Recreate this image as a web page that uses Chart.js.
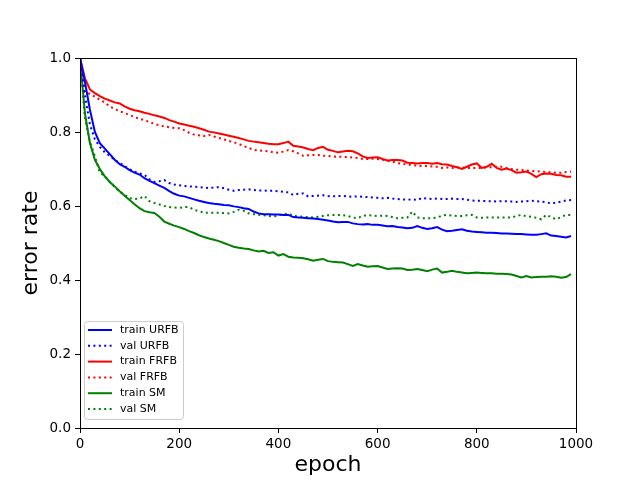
<!DOCTYPE html>
<html>
<head>
<meta charset="utf-8">
<script src="https://cdn.jsdelivr.net/npm/chart.js@4/dist/chart.umd.min.js"></script>
<style>
  body { margin: 0; background: #fff; }
  #wrap { width: 640px; height: 480px; }
</style>
</head>
<body>
<div id="wrap"><canvas id="chart" width="640" height="480"></canvas></div>
<script>
// epochs (x values), one sample every 10 epochs
const epochs = [0, 10, 20, 30, 40, 50, 60, 70, 80, 90,
  100, 110, 120, 130, 140, 150, 160, 170, 180, 190,
  200, 210, 220, 230, 240, 250, 260, 270, 280, 290,
  300, 310, 320, 330, 340, 350, 360, 370, 380, 390,
  400, 410, 420, 430, 440, 450, 460, 470, 480, 490,
  500, 510, 520, 530, 540, 550, 560, 570, 580, 590,
  600, 610, 620, 630, 640, 650, 660, 670, 680, 690,
  700, 710, 720, 730, 740, 750, 760, 770, 780, 790,
  800, 810, 820, 830, 840, 850, 860, 870, 880, 890,
  900, 910, 920, 930, 940, 950, 960, 970, 980, 990];

const trainURFB = [1.0, 0.935, 0.86, 0.80, 0.77, 0.755, 0.74, 0.725, 0.713, 0.706,
  0.697, 0.69, 0.685, 0.675, 0.668, 0.662, 0.655, 0.649, 0.64, 0.633,
  0.628, 0.626, 0.622, 0.618, 0.614, 0.611, 0.608, 0.606, 0.605, 0.603,
  0.602, 0.599, 0.597, 0.594, 0.592, 0.585, 0.58, 0.578, 0.578, 0.577,
  0.577, 0.576, 0.576, 0.570, 0.569, 0.568, 0.567, 0.566, 0.565, 0.563,
  0.561, 0.558, 0.556, 0.557, 0.557, 0.553, 0.551, 0.550, 0.551, 0.549,
  0.549, 0.547, 0.545, 0.546, 0.543, 0.542, 0.540, 0.541, 0.546, 0.541,
  0.538, 0.540, 0.543, 0.536, 0.532, 0.533, 0.535, 0.537, 0.533, 0.531,
  0.530, 0.529, 0.528, 0.528, 0.527, 0.526, 0.526, 0.525, 0.524, 0.524,
  0.523, 0.522, 0.522, 0.524, 0.526, 0.520, 0.519, 0.517, 0.515, 0.519];

const valURFB = [1.0, 0.90, 0.82, 0.78, 0.76, 0.745, 0.735, 0.725, 0.716, 0.708,
  0.699, 0.693, 0.688, 0.684, 0.672, 0.665, 0.667, 0.670, 0.662, 0.658,
  0.656, 0.654, 0.653, 0.652, 0.651, 0.650, 0.648, 0.650, 0.651, 0.648,
  0.644, 0.641, 0.643, 0.644, 0.645, 0.643, 0.642, 0.642, 0.641, 0.641,
  0.640, 0.638, 0.637, 0.630, 0.633, 0.634, 0.626, 0.627, 0.628, 0.629,
  0.627, 0.626, 0.627, 0.627, 0.626, 0.625, 0.626, 0.625, 0.624, 0.623,
  0.622, 0.621, 0.622, 0.620, 0.619, 0.618, 0.617, 0.618, 0.616, 0.622,
  0.620, 0.619, 0.620, 0.619, 0.619, 0.620, 0.619, 0.619, 0.617, 0.615,
  0.614, 0.614, 0.613, 0.613, 0.612, 0.613, 0.613, 0.612, 0.611, 0.612,
  0.613, 0.614, 0.613, 0.612, 0.610, 0.607, 0.609, 0.612, 0.615, 0.616];

const trainFRFB = [1.0, 0.945, 0.915, 0.905, 0.897, 0.89, 0.885, 0.88, 0.877, 0.869,
  0.863, 0.859, 0.856, 0.852, 0.849, 0.845, 0.842, 0.838, 0.832, 0.828,
  0.823, 0.82, 0.817, 0.814, 0.81, 0.806, 0.801, 0.799, 0.796, 0.793,
  0.79, 0.787, 0.784, 0.78, 0.776, 0.774, 0.772, 0.77, 0.768, 0.767,
  0.767, 0.77, 0.774, 0.763, 0.761, 0.758, 0.754, 0.751, 0.757, 0.76,
  0.752, 0.749, 0.745, 0.747, 0.749, 0.748, 0.742, 0.734, 0.73, 0.731,
  0.732, 0.727, 0.723, 0.724, 0.724, 0.723, 0.717, 0.716, 0.715, 0.716,
  0.716, 0.714, 0.716, 0.713, 0.712, 0.708, 0.705, 0.70, 0.706, 0.712,
  0.715, 0.703, 0.706, 0.714, 0.703, 0.698, 0.701, 0.697, 0.69, 0.691,
  0.693, 0.687, 0.678, 0.686, 0.688, 0.687, 0.684, 0.683, 0.679, 0.679];

const valFRFB = [1.0, 0.908, 0.903, 0.895, 0.887, 0.88, 0.869, 0.862, 0.856, 0.851,
  0.846, 0.84, 0.836, 0.832, 0.827, 0.822, 0.818, 0.815, 0.813, 0.811,
  0.81, 0.805, 0.798, 0.793, 0.791, 0.789, 0.792, 0.788, 0.784, 0.78,
  0.776, 0.772, 0.768, 0.762, 0.757, 0.752, 0.75, 0.749, 0.748, 0.745,
  0.744, 0.747, 0.751, 0.748, 0.742, 0.736, 0.737, 0.738, 0.738, 0.736,
  0.735, 0.734, 0.733, 0.733, 0.732, 0.731, 0.73, 0.727, 0.727, 0.728,
  0.727, 0.725, 0.722, 0.72, 0.716, 0.714, 0.712, 0.711, 0.709, 0.708,
  0.708, 0.707, 0.706, 0.703, 0.704, 0.703, 0.704, 0.704, 0.703, 0.703,
  0.703, 0.703, 0.704, 0.705, 0.706, 0.706, 0.703, 0.70, 0.698, 0.697,
  0.696, 0.695, 0.694, 0.693, 0.692, 0.691, 0.69, 0.69, 0.692, 0.693];

const trainSM = [1.0, 0.85, 0.77, 0.725, 0.70, 0.68, 0.665, 0.653, 0.64, 0.628,
  0.616, 0.605, 0.594, 0.586, 0.583, 0.581, 0.571, 0.558, 0.552, 0.547,
  0.543, 0.538, 0.532, 0.527, 0.521, 0.516, 0.512, 0.509, 0.505, 0.50,
  0.495, 0.49, 0.487, 0.485, 0.484, 0.48, 0.477, 0.479, 0.473, 0.475,
  0.466, 0.47, 0.463, 0.461, 0.46, 0.459, 0.456, 0.452, 0.455, 0.457,
  0.451, 0.449, 0.448, 0.447, 0.443, 0.438, 0.443, 0.439, 0.436, 0.437,
  0.438, 0.434, 0.43, 0.431, 0.432, 0.431, 0.427, 0.428, 0.43, 0.427,
  0.424, 0.428, 0.431, 0.42, 0.422, 0.425, 0.422, 0.42, 0.418, 0.419,
  0.42, 0.419, 0.418, 0.418, 0.417, 0.417, 0.416, 0.415, 0.411, 0.407,
  0.411, 0.407, 0.408, 0.409, 0.409, 0.41, 0.409, 0.406, 0.408, 0.416];

const valSM = [1.0, 0.838, 0.773, 0.735, 0.69, 0.68, 0.665, 0.651, 0.639, 0.63,
  0.621, 0.619, 0.62, 0.627, 0.613, 0.608, 0.604, 0.60, 0.597, 0.596,
  0.595, 0.597, 0.597, 0.59, 0.586, 0.582, 0.582, 0.582, 0.582, 0.581,
  0.58, 0.584, 0.59, 0.587, 0.58, 0.578, 0.576, 0.575, 0.573, 0.571,
  0.575, 0.578, 0.58, 0.573, 0.572, 0.571, 0.57, 0.569, 0.571, 0.573,
  0.575, 0.576, 0.576, 0.575, 0.573, 0.569, 0.567, 0.574, 0.575, 0.574,
  0.573, 0.574, 0.573, 0.57, 0.567, 0.568, 0.569, 0.585, 0.569, 0.567,
  0.567, 0.567, 0.569, 0.574, 0.576, 0.574, 0.573, 0.573, 0.575, 0.576,
  0.569, 0.568, 0.569, 0.569, 0.569, 0.569, 0.569, 0.569, 0.573, 0.576,
  0.572, 0.571, 0.568, 0.564, 0.576, 0.57, 0.564, 0.57, 0.576, 0.576];

const xTicks = [0, 200, 400, 600, 800, 1000];
const yTicks = [0.0, 0.2, 0.4, 0.6, 0.8, 1.0];

const FONT = "'DejaVu Sans', sans-serif";
const dotted = [2, 3.4];

function series(label, values, color, dash) {
  return {
    label: label,
    data: values.map((v, i) => ({ x: epochs[i], y: v })),
    borderColor: color,
    backgroundColor: color,
    borderWidth: 2,
    borderDash: dash,
    borderCapStyle: 'butt',
    pointRadius: 0,
    tension: 0,
    fill: false
  };
}

// draws the full box around the plot area (matplotlib spines)
const frame = {
  id: 'frame',
  afterDatasetsDraw(chart) {
    const a = chart.chartArea;
    const ctx = chart.ctx;
    ctx.save();
    ctx.strokeStyle = '#000';
    ctx.lineWidth = 1;
    ctx.setLineDash([]);
    ctx.strokeRect(Math.round(a.left) + 0.5, Math.round(a.top) + 0.5,
      Math.round(a.right - a.left), Math.round(a.bottom - a.top));
    ctx.restore();
  }
};

// legend box in the lower left corner of the plot
const boxLegend = {
  id: 'boxLegend',
  afterDraw(chart) {
    const ctx = chart.ctx;
    const x0 = 84.5, y0 = 321.5, w = 99, h = 98;
    ctx.save();
    ctx.beginPath();
    ctx.roundRect(x0, y0, w, h, 3);
    ctx.fillStyle = 'rgba(255,255,255,0.8)';
    ctx.fill();
    ctx.strokeStyle = '#cccccc';
    ctx.lineWidth = 1;
    ctx.stroke();
    ctx.font = '11px ' + FONT;
    ctx.textBaseline = 'middle';
    chart.data.datasets.forEach((ds, i) => {
      const y = 330 + i * 15.8;
      ctx.beginPath();
      ctx.setLineDash(ds.borderDash || []);
      ctx.lineCap = 'butt';
      ctx.strokeStyle = ds.borderColor;
      ctx.lineWidth = 2;
      ctx.moveTo(88, y);
      ctx.lineTo(112, y);
      ctx.stroke();
      ctx.setLineDash([]);
      ctx.fillStyle = '#000';
      ctx.fillText(ds.label, 120, y);
    });
    ctx.restore();
  }
};

new Chart(document.getElementById('chart'), {
  type: 'line',
  data: {
    datasets: [
      series('train URFB', trainURFB, '#0000ff', []),
      series('val URFB', valURFB, '#0000ff', dotted),
      series('train FRFB', trainFRFB, '#ff0000', []),
      series('val FRFB', valFRFB, '#ff0000', dotted),
      series('train SM', trainSM, '#008000', []),
      series('val SM', valSM, '#008000', dotted)
    ]
  },
  options: {
    responsive: false,
    animation: false,
    layout: { padding: { left: 0, right: 64, top: 58, bottom: 0 } },
    plugins: { legend: { display: false }, tooltip: { enabled: false } },
    scales: {
      x: {
        type: 'linear',
        min: 0,
        max: 1000,
        offset: false,
        afterBuildTicks: s => { s.ticks = xTicks.map(v => ({ value: v })); },
        afterFit: s => { s.height = 52; },
        border: { display: false },
        grid: { drawOnChartArea: false, drawTicks: true, tickLength: 5, color: '#000' },
        ticks: { color: '#000', font: { family: FONT, size: 13.5 }, padding: 3, maxRotation: 0, callback: v => String(v) },
        title: { display: true, text: 'epoch', color: '#000', font: { family: FONT, size: 22 }, padding: { top: 0, bottom: 2 } }
      },
      y: {
        type: 'linear',
        min: 0,
        max: 1,
        afterBuildTicks: s => { s.ticks = yTicks.map(v => ({ value: v })); },
        afterFit: s => { s.width = 80; },
        border: { display: false },
        grid: { drawOnChartArea: false, drawTicks: true, tickLength: 5, color: '#000' },
        ticks: { color: '#000', font: { family: FONT, size: 13.5 }, padding: 4, callback: v => v.toFixed(1) },
        title: { display: true, text: 'error rate', color: '#000', font: { family: FONT, size: 22 }, padding: { top: 18, bottom: 0 } }
      }
    }
  },
  plugins: [frame, boxLegend]
});
</script>
</body>
</html>
